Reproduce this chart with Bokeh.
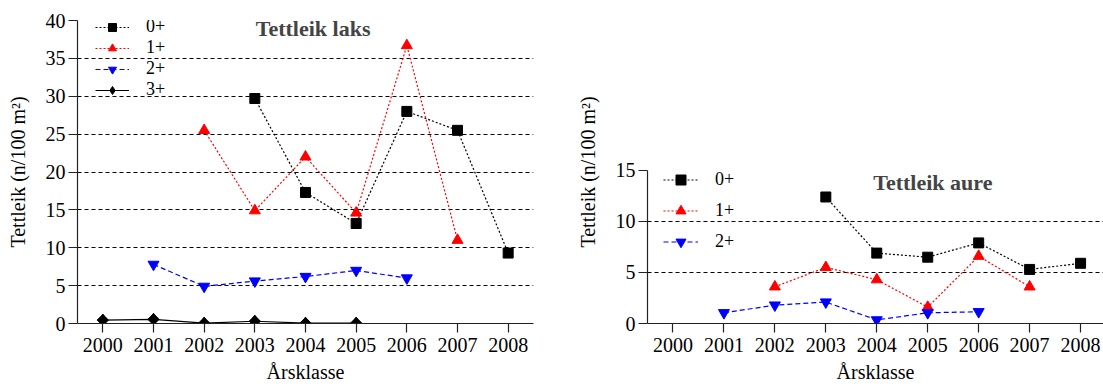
import math
from bokeh.plotting import figure
from bokeh.layouts import row
from bokeh.models import FixedTicker, Legend, LegendItem, Label, Range1d
from bokeh.embed import file_html
from bokeh.resources import INLINE

# ---------------- data ----------------
year_ticks = [2000, 2001, 2002, 2003, 2004, 2005, 2006, 2007, 2008]

# Tettleik laks
laks_0_years = [2003, 2004, 2005, 2006, 2007, 2008]
laks_0 = [29.7, 17.3, 13.2, 28.0, 25.5, 9.3]
laks_1_years = [2002, 2003, 2004, 2005, 2006, 2007]
laks_1 = [25.5, 14.9, 22.0, 14.6, 36.7, 11.0]
laks_2_years = [2001, 2002, 2003, 2004, 2005, 2006]
laks_2 = [7.8, 4.9, 5.6, 6.2, 7.0, 6.0]
laks_3_years = [2000, 2001, 2002, 2003, 2004, 2005]
laks_3 = [0.45, 0.55, 0.05, 0.3, 0.05, 0.05]

# Tettleik aure
aure_0_years = [2003, 2004, 2005, 2006, 2007, 2008]
aure_0 = [12.4, 6.9, 6.5, 7.9, 5.3, 5.9]
aure_1_years = [2002, 2003, 2004, 2005, 2006, 2007]
aure_1 = [3.6, 5.5, 4.3, 1.6, 6.6, 3.6]
aure_2_years = [2001, 2002, 2003, 2004, 2005, 2006]
aure_2 = [1.05, 1.8, 2.1, 0.35, 1.05, 1.15]

laks_y_ticks = [0, 5, 10, 15, 20, 25, 30, 35, 40]
laks_grid = [5, 10, 15, 20, 25, 30, 35]
aure_y_ticks = [0, 5, 10, 15]
aure_grid = [5, 10]

FONT = "Liberation Serif"


def style(p, yticks, grid):
    p.outline_line_color = None
    p.xgrid.visible = False
    p.ygrid.ticker = FixedTicker(ticks=grid)
    p.ygrid.grid_line_color = "black"
    p.ygrid.grid_line_dash = "4 3"
    p.ygrid.grid_line_width = 1
    p.xaxis.ticker = FixedTicker(ticks=year_ticks)
    p.yaxis.ticker = FixedTicker(ticks=yticks)
    for ax in (p.xaxis[0], p.yaxis[0]):
        ax.axis_line_color = "#222222"
        ax.axis_line_width = 1.2
        ax.major_tick_line_color = "#222222"
        ax.major_tick_line_width = 1.2
        ax.major_tick_out = 9
        ax.major_tick_in = 0
        ax.minor_tick_line_color = None
        ax.major_label_text_font = FONT
        ax.major_label_text_font_size = "20px"
        ax.major_label_text_color = "black"
        ax.axis_label_text_font = FONT
        ax.axis_label_text_font_size = "20px"
        ax.axis_label_text_font_style = "normal"
        ax.axis_label_text_color = "black"
    p.xaxis.major_label_standoff = 5
    p.xaxis.axis_label_standoff = 6
    p.yaxis.major_label_standoff = 3
    p.yaxis.axis_label_standoff = 14
    p.xaxis.axis_label = "Årsklasse"
    p.yaxis.axis_label = "Tettleik (n/100 m²)"


def series(p, xs, ys, color, dash, marker, size, angle=0.0):
    l = p.line(xs, ys, line_color=color, line_dash=dash, line_width=1.2)
    s = p.scatter(xs, ys, marker=marker, size=size, angle=angle,
                  fill_color=color, line_color=color)
    return [l, s]


def legend(items, loc, spacing, glyph_width, glyph_height):
    return Legend(items=items, location=loc, padding=0, margin=0,
                  spacing=spacing, glyph_width=glyph_width,
                  glyph_height=glyph_height, label_height=18,
                  label_standoff=17, label_text_font=FONT,
                  label_text_font_size="18px", label_text_color="black",
                  border_line_color=None, background_fill_alpha=0)


# ---------------- left: laks ----------------
p1 = figure(width=568, height=388, output_backend="svg", toolbar_location=None,
            x_range=Range1d(1999.5, 2008.5), y_range=Range1d(0, 40),
            min_border_left=77, min_border_right=35, min_border_top=20,
            min_border_bottom=65)
style(p1, laks_y_ticks, laks_grid)
r0 = series(p1, laks_0_years, laks_0, "black", "2 2", "square", 10)
r1 = series(p1, laks_1_years, laks_1, "red", "2 2", "triangle", 11)
r2 = series(p1, laks_2_years, laks_2, "blue", "5 3", "inverted_triangle", 11)
r3 = series(p1, laks_3_years, laks_3, "black", "solid", "square", 8,
            angle=math.pi / 4)
r3_dia = p1.scatter(laks_3_years, laks_3, marker="diamond", size=12,
                    fill_color="black", line_color="black")
p1.add_layout(legend([LegendItem(label="0+", renderers=r0),
                      LegendItem(label="1+", renderers=r1),
                      LegendItem(label="2+", renderers=r2),
                      LegendItem(label="3+", renderers=[r3[0], r3_dia])],
                     (18, 223), 0, 34, 20))
p1.add_layout(Label(x=2004.15, y=39.0, text="Tettleik laks", text_font=FONT,
                    text_font_size="22px", text_font_style="bold",
                    text_align="center", text_baseline="middle"))

# ---------------- right: aure ----------------
p2 = figure(width=535, height=388, output_backend="svg", toolbar_location=None,
            x_range=Range1d(1999.5, 2008.45), y_range=Range1d(0, 29.7),
            min_border_left=79, min_border_right=0, min_border_top=20,
            min_border_bottom=65)
style(p2, aure_y_ticks, aure_grid)
p2.yaxis.bounds = (0, 15)
a0 = series(p2, aure_0_years, aure_0, "black", "2 2", "square", 10)
a1 = series(p2, aure_1_years, aure_1, "red", "2 2", "triangle", 11)
a2 = series(p2, aure_2_years, aure_2, "blue", "5 3", "inverted_triangle", 11)
p2.add_layout(legend([LegendItem(label="0+", renderers=a0),
                      LegendItem(label="1+", renderers=a1),
                      LegendItem(label="2+", renderers=a2)],
                     (16, 69), 6, 35, 25))
p2.add_layout(Label(x=2005.1, y=13.8, text="Tettleik aure", text_font=FONT,
                    text_font_size="22px", text_font_style="bold",
                    text_align="center", text_baseline="middle"))

layout = row(p1, p2)
open("out.html", "w").write(file_html(layout, INLINE))
